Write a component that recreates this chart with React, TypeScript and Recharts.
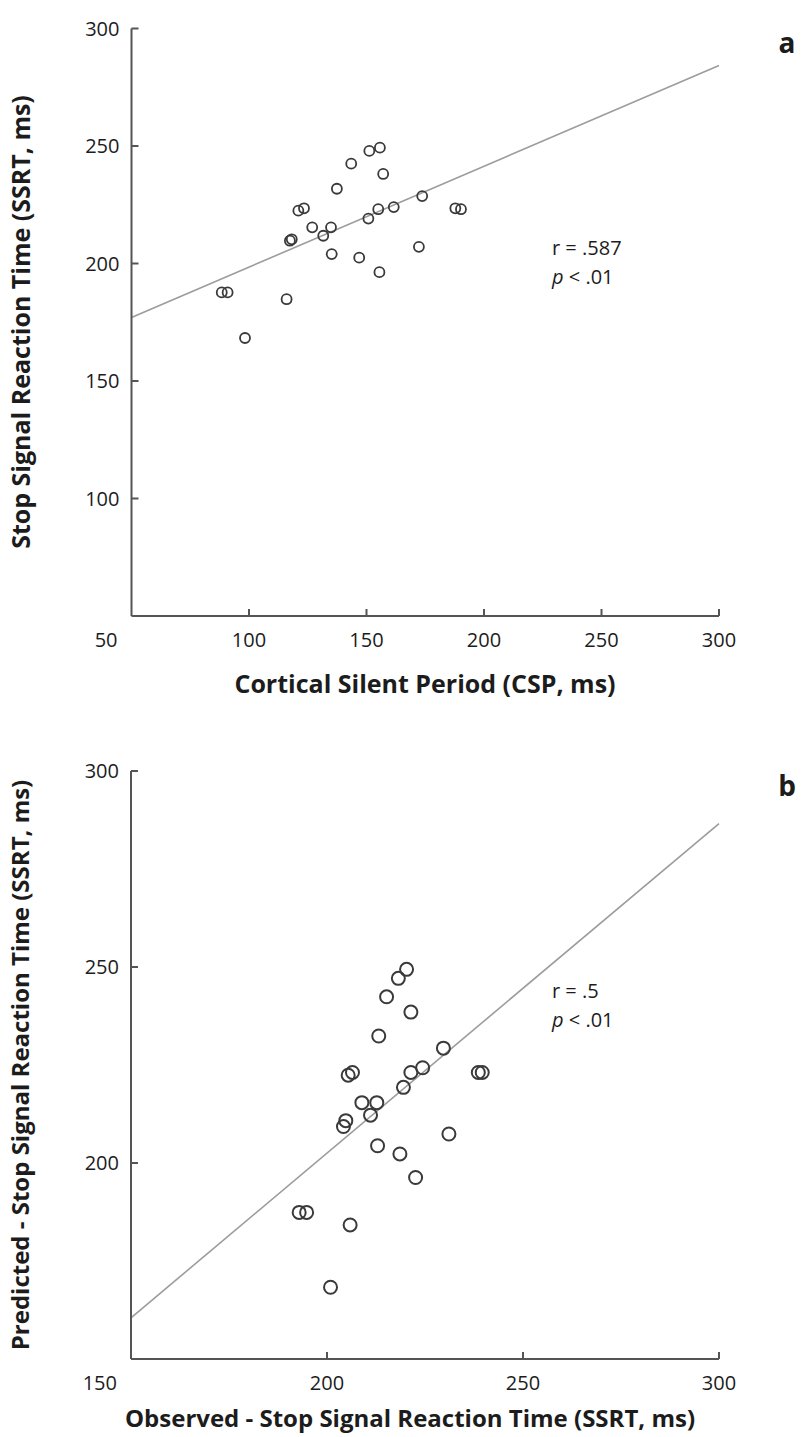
import React from 'react';
import { ScatterChart, Scatter, XAxis, YAxis, ReferenceLine } from 'recharts';

// panel a: cortical silent period vs SSRT
const cspMs = [88.4, 90.9, 98.3, 116.0, 117.4, 118.2, 121.0, 123.4, 126.9, 131.6, 134.9, 135.2, 137.4, 143.5, 146.9, 150.8, 151.2, 155.5, 155.7, 155.0, 157.1, 161.6, 172.3, 173.7, 187.8, 190.2];
const ssrtMs = [187.7, 187.7, 168.3, 184.8, 209.7, 210.3, 222.5, 223.5, 215.4, 211.8, 215.4, 204.0, 231.8, 242.5, 202.5, 219.1, 247.9, 196.3, 249.3, 223.1, 238.1, 224.0, 207.1, 228.7, 223.5, 223.1];

// panel b: observed vs predicted SSRT
const observedSsrt = [220.3, 218.2, 215.2, 221.4, 213.2, 229.7, 224.4, 205.4, 206.5, 221.4, 238.6, 239.6, 219.5, 208.9, 212.7, 211.1, 204.8, 204.2, 231.1, 212.9, 218.6, 222.6, 192.9, 194.8, 205.9, 200.9];
const predictedSsrt = [249.4, 247.1, 242.4, 238.5, 232.4, 229.3, 224.3, 222.4, 223.1, 223.1, 223.1, 223.1, 219.3, 215.4, 215.4, 212.2, 210.8, 209.3, 207.4, 204.4, 202.3, 196.3, 187.4, 187.4, 184.2, 168.3];

const cspTicks = [50, 100, 150, 200, 250, 300];
const ssrtTicks = [100, 150, 200, 250, 300];
const observedTicks = [150, 200, 250, 300];
const predictedTicks = [200, 250, 300];

const fitA = [{ x: 50, y: 177 }, { x: 300, y: 284.3 }];
const fitB = [{ x: 150, y: 160.5 }, { x: 300, y: 286.6 }];

const pointsA = cspMs.map((x, i) => ({ x, y: ssrtMs[i] }));
const pointsB = observedSsrt.map((x, i) => ({ x, y: predictedSsrt[i] }));

const FONT = '"Open Sans", sans-serif';
const INK = '#1c1c1c';
const AXIS = '#555';

function XTick(props: any) {
  const { x, y, payload, index } = props;
  const first = index === 0;
  return (
    <g>
      {!first && <line x1={x} x2={x} y1={y} y2={y - 7} stroke={AXIS} strokeWidth={2} />}
      <text
        x={first ? x - 14 : x}
        y={y + 31}
        textAnchor={first ? 'end' : 'middle'}
        fontSize={20}
        fill={INK}
        fontFamily={FONT}
      >
        {payload.value}
      </text>
    </g>
  );
}

function YTick(props: any) {
  const { x, y, payload } = props;
  return (
    <g>
      <line x1={x} x2={x + 7} y1={y} y2={y} stroke={AXIS} strokeWidth={2} />
      <text x={x - 12} y={y} dy="0.36em" textAnchor="end" fontSize={20} fill={INK} fontFamily={FONT}>
        {payload.value}
      </text>
    </g>
  );
}

const ring = (r: number, w: number) => (props: any) => (
  <circle cx={props.cx} cy={props.cy} r={r} fill="none" stroke="#3a3a3a" strokeWidth={w} />
);

function Txt({ x, y, children, size = 20, bold = false, rotate = false, anchor = 'center' }: any) {
  const shift = anchor === 'left' ? 'translate(0,-50%)' : 'translate(-50%,-50%)';
  return (
    <div
      style={{
        position: 'absolute',
        left: x,
        top: y,
        transform: shift + (rotate ? ' rotate(-90deg)' : ''),
        fontSize: size,
        lineHeight: 1,
        fontWeight: bold ? 700 : 400,
        whiteSpace: 'nowrap',
        color: INK,
        fontFamily: FONT,
      }}
    >
      {children}
    </div>
  );
}

export default function App() {
  return (
    <div style={{ position: 'absolute', left: 0, top: 0, width: 806, height: 1437, background: '#fff', fontFamily: FONT }}>
      {/* panel a */}
      <div style={{ position: 'absolute', left: 0, top: 0 }}>
        <ScatterChart width={806} height={720} margin={{ top: 28.5, right: 87, bottom: 64, left: 71.5 }}>
          <XAxis
            type="number"
            dataKey="x"
            domain={[50, 300]}
            ticks={cspTicks}
            interval={0}
            height={40}
            tickSize={0}
            tickMargin={0}
            tickLine={false}
            axisLine={{ stroke: AXIS, strokeWidth: 2 }}
            tick={<XTick />}
          />
          <YAxis
            type="number"
            dataKey="y"
            domain={[50, 300]}
            ticks={ssrtTicks}
            interval={0}
            width={60}
            tickSize={0}
            tickMargin={0}
            tickLine={false}
            axisLine={{ stroke: AXIS, strokeWidth: 2 }}
            tick={<YTick />}
          />
          <ReferenceLine segment={fitA} stroke="#9c9c9c" strokeWidth={1.6} ifOverflow="visible" />
          <Scatter data={pointsA} shape={ring(5, 1.8)} isAnimationActive={false} />
        </ScatterChart>
      </div>

      {/* panel b */}
      <div style={{ position: 'absolute', left: 0, top: 720 }}>
        <ScatterChart width={806} height={717} margin={{ top: 51, right: 87, bottom: 38, left: 71 }}>
          <XAxis
            type="number"
            dataKey="x"
            domain={[150, 300]}
            ticks={observedTicks}
            interval={0}
            height={40}
            tickSize={0}
            tickMargin={0}
            tickLine={false}
            axisLine={{ stroke: AXIS, strokeWidth: 2 }}
            tick={<XTick />}
          />
          <YAxis
            type="number"
            dataKey="y"
            domain={[150, 300]}
            ticks={predictedTicks}
            interval={0}
            width={60}
            tickSize={0}
            tickMargin={0}
            tickLine={false}
            axisLine={{ stroke: AXIS, strokeWidth: 2 }}
            tick={<YTick />}
          />
          <ReferenceLine segment={fitB} stroke="#9c9c9c" strokeWidth={1.6} ifOverflow="visible" />
          <Scatter data={pointsB} shape={ring(6.5, 2)} isAnimationActive={false} />
        </ScatterChart>
      </div>

      {/* titles and notes */}
      <Txt x={425} y={683} size={25} bold>Cortical Silent Period (CSP, ms)</Txt>
      <Txt x={20} y={322} size={25} bold rotate>Stop Signal Reaction Time (SSRT, ms)</Txt>
      <Txt x={787} y={42} size={28} bold>a</Txt>
      <Txt x={552} y={248} anchor="left">r = .587</Txt>
      <Txt x={552} y={277} anchor="left"><i>p</i> &lt; .01</Txt>

      <Txt x={410} y={1418} size={24} bold>Observed - Stop Signal Reaction Time (SSRT, ms)</Txt>
      <Txt x={20} y={1065} size={24} bold rotate>Predicted - Stop Signal Reaction Time (SSRT, ms)</Txt>
      <Txt x={787} y={785} size={28} bold>b</Txt>
      <Txt x={552} y={991} anchor="left">r = .5</Txt>
      <Txt x={552} y={1020} anchor="left"><i>p</i> &lt; .01</Txt>
    </div>
  );
}
